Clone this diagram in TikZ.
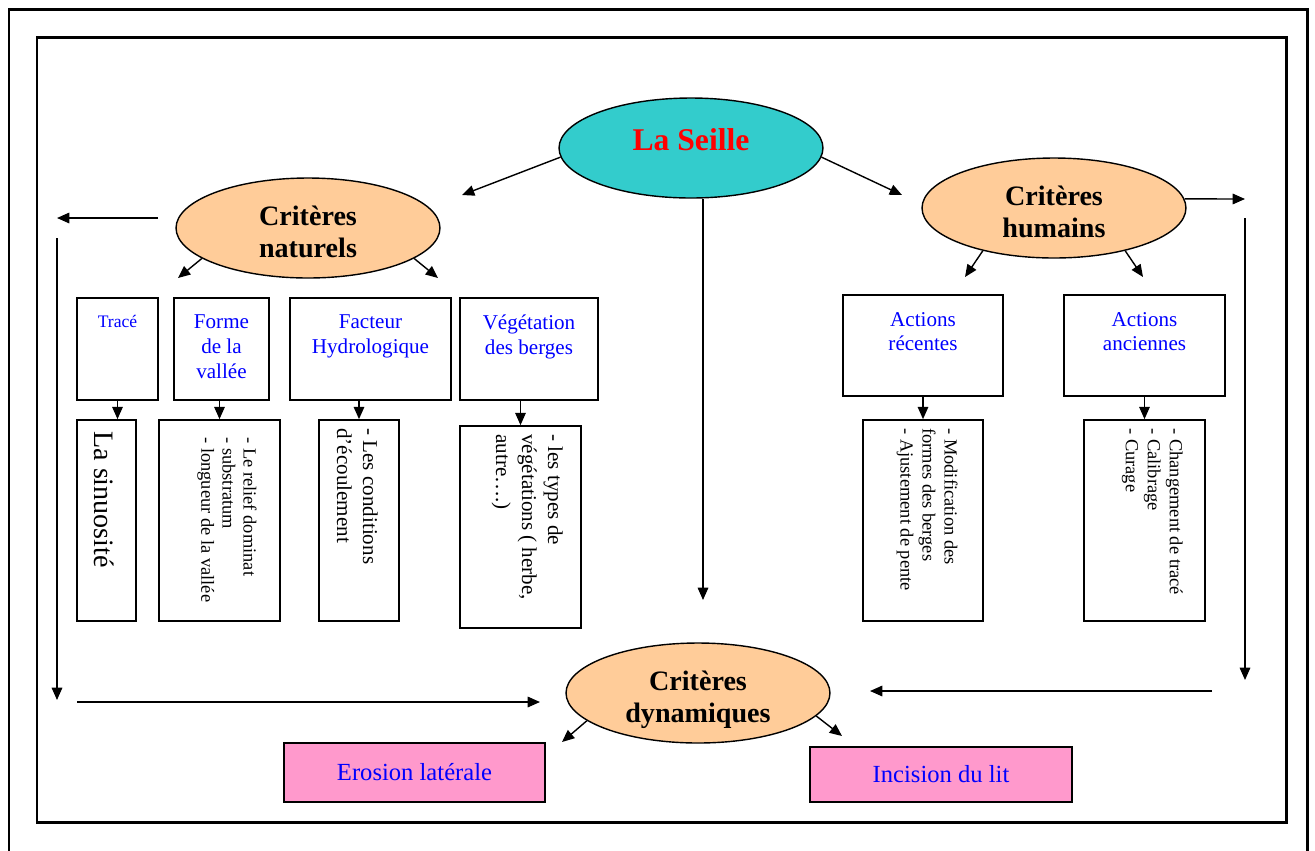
\documentclass[tikz,border=0pt]{standalone}
\usepackage{fontspec}
\setmainfont{Liberation Serif}
\usetikzlibrary{positioning, arrows.meta, shapes.geometric, calc}
\usepackage{xcolor}
\definecolor{seillecolor}{RGB}{51, 204, 204}
\definecolor{criterecolor}{RGB}{255, 204, 153}
\definecolor{effetcolor}{RGB}{255, 153, 204}
\definecolor{titrecolor}{RGB}{0, 0, 255}
\newcommand{\deuxlignes}[2]{\raisebox{-4pt}[\height][\depth]{\begin{tabular}{@{}c@{}}#1\\#2\end{tabular}}}

\begin{document}
\begin{tikzpicture}[x=0.02cm, y=-0.02cm,
    arr/.style={-{Triangle[length=7pt, width=6pt]}, line width=0.8pt},
    critere/.style={draw, ellipse, fill=criterecolor, line width=0.8pt,
      minimum width=5.28cm, minimum height=2cm, inner sep=0pt,
      font=\fontsize{16}{18.5}\selectfont\bfseries},
    boite/.style={draw, line width=1pt, inner sep=0pt},
    titre/.style={text=titrecolor, align=center, inner sep=0pt,
      font=\fontsize{12}{14}\selectfont},
    liste/.style={rotate=-90, anchor=north west, align=left, inner sep=0pt,
      font=\fontsize{10.5}{12.5}\selectfont},
    effet/.style={draw, fill=effetcolor, line width=1pt, text=titrecolor,
      font=\fontsize{14}{16}\selectfont}]
  \useasboundingbox (0,0) rectangle (1315,850);
  % double frame
  \draw[line width=1.7pt] (9,9) rectangle (1307,870);
  \draw[line width=1.7pt] (37,37) rectangle (1286,822);

  % ellipses
  \node[draw, ellipse, fill=seillecolor, line width=0.8pt, minimum width=5.28cm,
        minimum height=2cm, inner sep=0pt, text=red,
        font=\fontsize{18}{20}\selectfont\bfseries] (seille) at (691,148)
    {\raisebox{5pt}[\height][\depth]{La Seille}};
  \node[critere] (nat) at (308,228) {\deuxlignes{Critères}{naturels}};
  \node[critere] (hum) at (1054,208) {\deuxlignes{Critères}{humains}};
  \node[critere] (dyn) at (698,693) {\deuxlignes{Critères}{dynamiques}};

  % top boxes
  \node[boite, minimum width=1.62cm, minimum height=2.04cm] (trace) at (117.5,349) {};
  \node[boite, minimum width=1.9cm, minimum height=2.04cm] (forme) at (221.5,349) {};
  \node[boite, minimum width=3.22cm, minimum height=2.04cm] (facteur) at (370.5,349) {};
  \node[boite, minimum width=2.76cm, minimum height=2.04cm] (veg) at (529,349) {};
  \node[boite, minimum width=3.2cm, minimum height=2.02cm] (rec) at (923,345.5) {};
  \node[boite, minimum width=3.22cm, minimum height=2.02cm] (anc) at (1144.5,345.5) {};
  \node[titre, font=\fontsize{10}{12}\selectfont, below=10pt of trace.north] (traceT) {Tracé};
  \node[titre, below=10pt of forme.north] (formeT) {Forme\\de la\\vallée};
  \node[titre, below=10pt of facteur.north] (facteurT) {Facteur\\Hydrologique};
  \node[titre, below=10pt of veg.north] (vegT) {Végétation\\des berges};
  \node[titre, below=10pt of rec.north] (recT) {Actions\\récentes};
  \node[titre, below=10pt of anc.north] (ancT) {Actions\\anciennes};

  % lower boxes
  \node[boite, minimum width=1.18cm, minimum height=4.02cm] (sinu) at (106.5,520.5) {};
  \node[boite, minimum width=2.42cm, minimum height=4.02cm] (formeL) at (219.5,520.5) {};
  \node[boite, minimum width=1.6cm, minimum height=4.02cm] (facteurL) at (359,520.5) {};
  \node[boite, minimum width=2.42cm, minimum height=4.04cm] (vegL) at (520.5,527) {};
  \node[boite, minimum width=2.4cm, minimum height=4.02cm] (recL) at (923,520.5) {};
  \node[boite, minimum width=2.42cm, minimum height=4.02cm] (ancL) at (1144.5,520.5) {};
  \node[liste, font=\fontsize{16}{18}\selectfont] (sinuT) at (114,431) {La sinuosité};
  \node[liste, font=\fontsize{10.5}{12}\selectfont] (formeLT) at (257,437)
    {- Le relief dominat\\- substratum\\- longueur de la vallée};
  \node[liste, font=\fontsize{12}{14.8}\selectfont] (facteurLT) at (378,428)
    {- Les conditions\\d’écoulement};
  \node[liste, font=\fontsize{12}{14.8}\selectfont] (vegLT) at (563,434)
    {- les types de\\végétations ( herbe,\\autre….)};
  \node[liste] (recLT) at (958,428) {- Modification des\\formes des berges\\- Ajustement de pente};
  \node[liste] (ancLT) at (1183,428) {- Changement de tracé\\- Calibrage\\- Curage};

  % effects
  \node[effet, minimum width=5.22cm, minimum height=1.18cm] (erosion) at (414.5,772.5) {Erosion latérale};
  \node[effet, minimum width=5.24cm, minimum height=1.1cm] (incision) at (941,774.5) {Incision du lit};

  % free ends
  \coordinate (vnat) at (462,195);
  \coordinate (vhum) at (902,195);
  \coordinate (vdyn) at (703,600);
  \coordinate (gauche1) at (158,218);
  \coordinate (gauche2) at (57,218);
  \coordinate (gauche3) at (57,238);
  \coordinate (gauche4) at (57,700);
  \coordinate (gauche5) at (77,702);
  \coordinate (gauche6) at (540,702);
  \coordinate (droite1) at (1245,199);
  \coordinate (droite2) at (1245,218);
  \coordinate (droite3) at (1245,680);
  \coordinate (droite4) at (1212,691);
  \coordinate (droite5) at (870,691);
  \coordinate (pn1) at (178,278);
  \coordinate (pn2) at (438,278);
  \coordinate (ph1) at (965,277);
  \coordinate (ph2) at (1143,277);
  \coordinate (pd1) at (562,742);
  \coordinate (pd2) at (842,736);

  % arrows
  \draw[arr] (seille.184) -- (vnat);
  \draw[arr] (seille.356) -- (vhum);
  \draw[arr] (vdyn |- seille.south) -- (vdyn);
  \draw[arr] (gauche1) -- (gauche2);
  \draw[arr] (gauche3) -- (gauche4);
  \draw[arr] (gauche5) -- (gauche6);
  \draw[arr] (hum.4) -- (droite1);
  \draw[arr] (droite2) -- (droite3);
  \draw[arr] (droite4) -- (droite5);
  \draw[arr] (nat.196) -- (pn1);
  \draw[arr] (nat.344) -- (pn2);
  \draw[arr] (hum.211) -- (ph1);
  \draw[arr] (hum.329) -- (ph2);
  \draw[arr] (dyn.194) -- (pd1);
  \draw[arr] (dyn.349) -- (pd2);
  \draw[arr] (trace.south) -- (trace.south |- sinu.north);
  \draw[arr] (formeL.north |- forme.south) -- (formeL.north);
  \draw[arr] (facteurL.north |- facteur.south) -- (facteurL.north);
  \draw[arr] (vegL.north |- veg.south) -- (vegL.north);
  \draw[arr] (recL.north |- rec.south) -- (recL.north);
  \draw[arr] (ancL.north |- anc.south) -- (ancL.north);
\end{tikzpicture}
\end{document}
